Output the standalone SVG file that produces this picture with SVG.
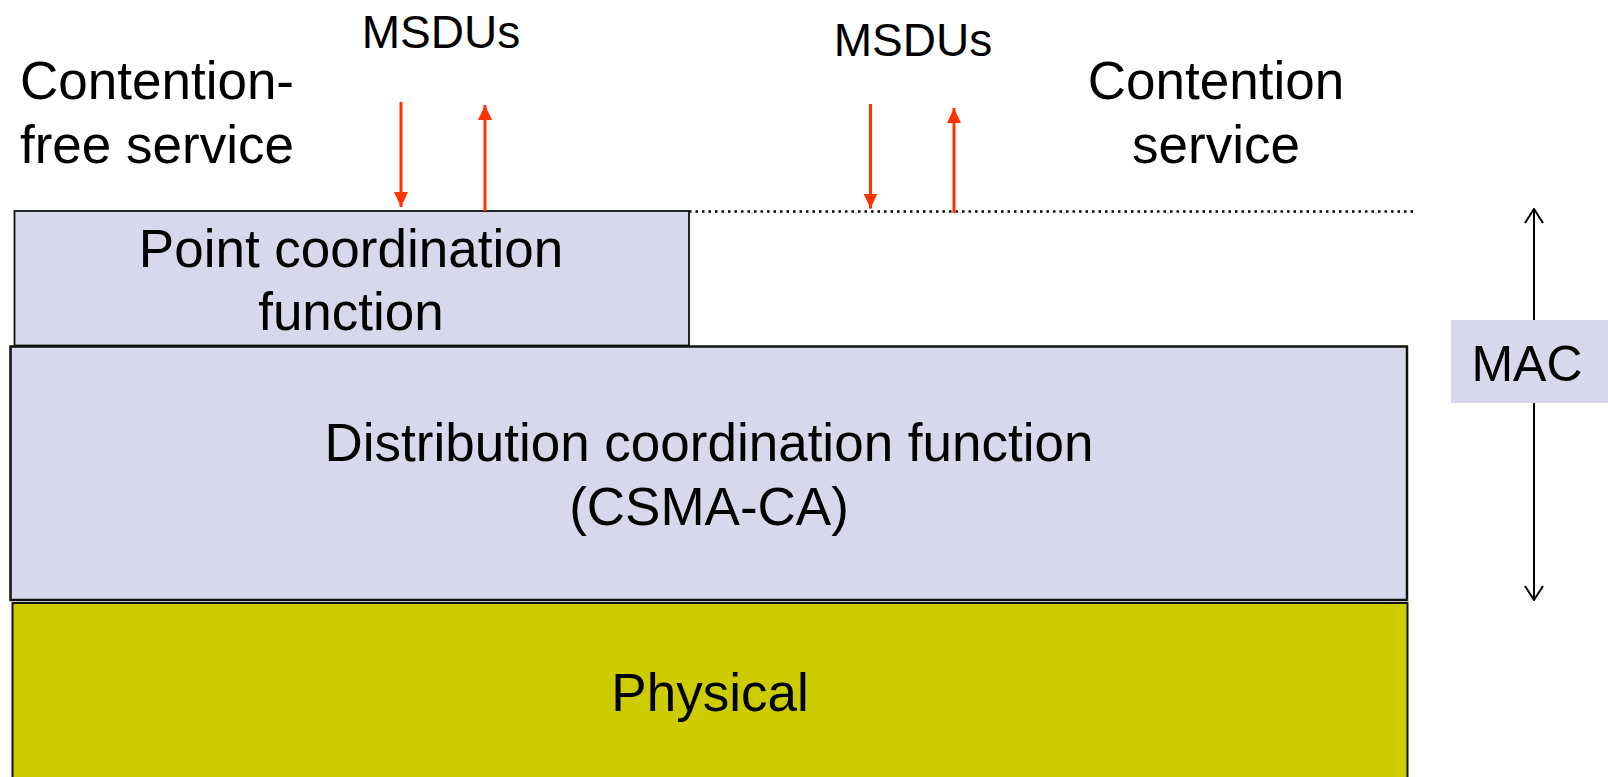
<svg xmlns="http://www.w3.org/2000/svg" width="1608" height="777" viewBox="0 0 1608 777">
<style>
text{font-family:"Liberation Sans",Arial,sans-serif;fill:#000}
.lav{fill:#D7D8EB;stroke:#111}
.big{font-size:53px}
.mid{font-size:46px}
.red{stroke:#FF3300;stroke-width:3;fill:none}
</style>
<defs>
<marker id="rh" viewBox="0 0 15 14" refX="15" refY="7" markerWidth="15" markerHeight="14" markerUnits="userSpaceOnUse" orient="auto">
<path d="M0,0 L15,7 L0,14 Z" fill="#FF3300"/>
</marker>
<marker id="vh" viewBox="0 0 16 20" refX="15" refY="10" markerWidth="16" markerHeight="20" markerUnits="userSpaceOnUse" orient="auto">
<path d="M1,1 L15,10 L1,19" fill="none" stroke="#000" stroke-width="2"/>
</marker>
</defs>
<rect width="1608" height="777" fill="#fff"/>
<g id="physical">
<rect x="12.5" y="603" width="1395" height="200" fill="#CCCC00" stroke="#111" stroke-width="2"/>
<text x="710" y="711" text-anchor="middle" class="big">Physical</text>
</g>
<g id="dcf">
<rect x="10.5" y="346.5" width="1396.5" height="253.5" class="lav" stroke-width="2.5"/>
<text x="709" y="461" text-anchor="middle" class="big">Distribution coordination function</text>
<text x="709" y="525" text-anchor="middle" class="big">(CSMA-CA)</text>
</g>
<g id="pcf">
<rect x="14.5" y="211" width="674.5" height="134.5" class="lav" stroke-width="1.8"/>
<text x="351" y="266.5" text-anchor="middle" class="big">Point coordination</text>
<text x="351" y="330" text-anchor="middle" class="big">function</text>
</g>
<g id="labels">
<text x="20" y="98.5" class="big">Contention-</text>
<text x="20" y="162.5" class="big">free service</text>
<text x="1216" y="98.5" text-anchor="middle" class="big">Contention</text>
<text x="1216" y="162.5" text-anchor="middle" class="big">service</text>
<text x="441" y="48" text-anchor="middle" class="mid">MSDUs</text>
<text x="913" y="56" text-anchor="middle" class="mid">MSDUs</text>
</g>
<g id="connectors">
<line x1="689" y1="211.5" x2="1416" y2="211.5" stroke="#000" stroke-width="2.5" stroke-dasharray="2.5,4"/>
<line x1="401" y1="102" x2="401" y2="207" class="red" marker-end="url(#rh)"/>
<line x1="485" y1="211" x2="485" y2="105" class="red" marker-end="url(#rh)"/>
<line x1="870.5" y1="104" x2="870.5" y2="208.5" class="red" marker-end="url(#rh)"/>
<line x1="954" y1="213" x2="954" y2="108" class="red" marker-end="url(#rh)"/>
<line x1="1534" y1="320" x2="1534" y2="209" stroke="#000" stroke-width="2" marker-end="url(#vh)"/>
<line x1="1534" y1="403" x2="1534" y2="600" stroke="#000" stroke-width="2" marker-end="url(#vh)"/>
</g>
<g id="mac">
<rect x="1451" y="320" width="160" height="83" fill="#D7D8EB"/>
<text x="1527" y="381" text-anchor="middle" font-size="50">MAC</text>
</g>
</svg>
